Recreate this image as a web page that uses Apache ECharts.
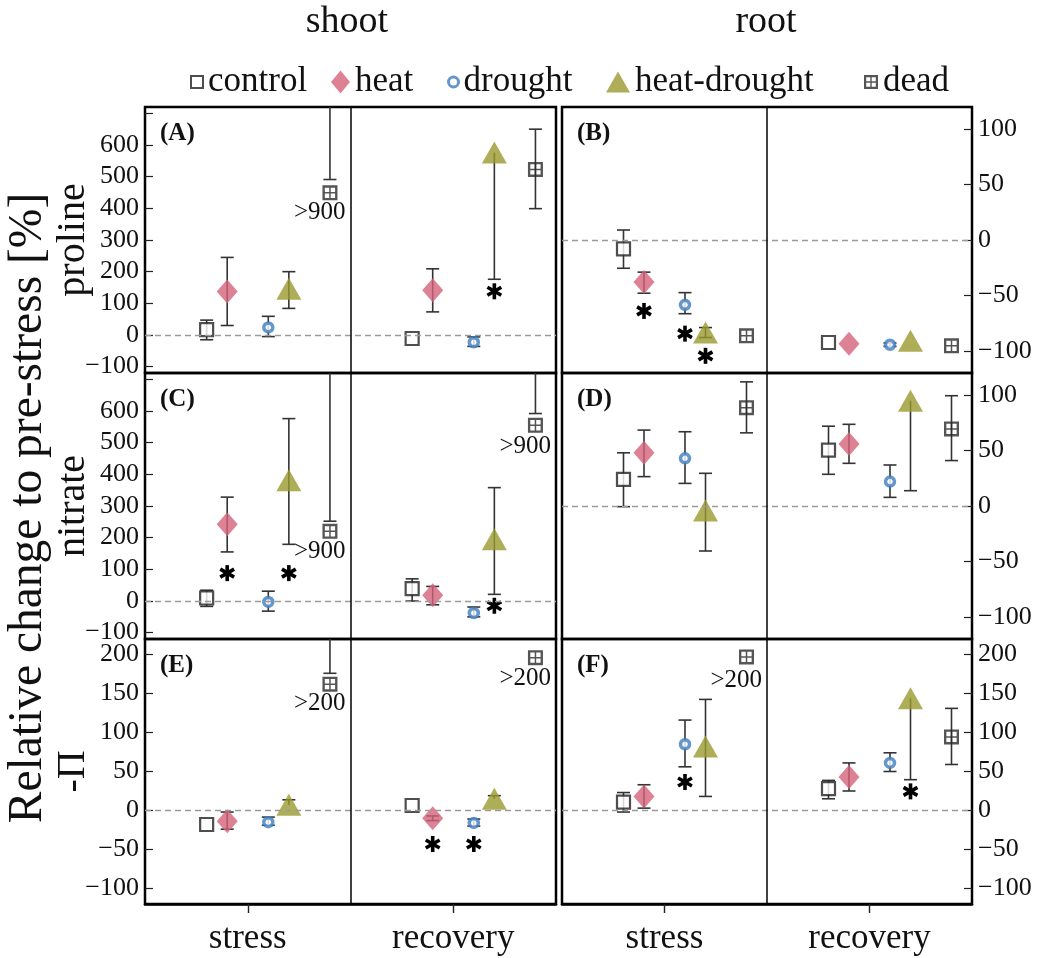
<!DOCTYPE html>
<html><head><meta charset="utf-8">
<script src="https://cdn.jsdelivr.net/npm/echarts@6/dist/echarts.min.js"></script>
<style>html,body{margin:0;padding:0;background:#fff}#c{width:1042px;height:958px}</style>
</head><body><div id="c"></div>
<script>
// ---------------- data ----------------
const treatments = ['control', 'heat', 'drought', 'heat-drought', 'dead'];
const phases = ['stress', 'recovery'];
const tissues = ['shoot', 'root'];
const variables = ['proline', 'nitrate', '-\u03A0'];
const panelLetters = ['(A)', '(B)', '(C)', '(D)', '(E)', '(F)'];
const yTitle = 'Relative change to pre-stress [%]';

// mean relative change [stress, recovery] per treatment (order as treatments)
const meanA = [[17, -11], [137, 141], [24, -23], [146, 576], [449, 523]];
const meanB = [[-8, -92.5], [-38, -93.5], [-58.5, -94.5], [-83.5, -91], [-86.5, -95.5]];
const meanC = [[9.5, 39], [242, 18], [-3, -38], [381, 195], [220, 555]];
const meanD = [[24, 50.5], [48, 56], [43, 22], [-4, 95], [88.7, 69.5]];
const meanE = [[-18, 6.4], [-13.7, -10], [-15, -16], [7.3, 15], [162, 196]];
const meanF = [[10.7, 28], [18, 43], [85, 61], [82, 144], [197, 94.4]];

// error bars [[lo, hi] stress, [lo, hi] recovery]; null = no whisker on that side
const errA = [[[-15, 47], [null, null]], [[30, 245], [73, 209]], [[-5, 59], [-36, -6]], [[84, 200], [176, null]], [[491, 1000], [399, 650]]];
const errB = [[[-25.5, 9], [null, null]], [[-48, -29], [null, null]], [[-66.5, -47.5], [-96, -93]], [[-88, -79], [null, null]], [[null, null], [null, null]]];
const errC = [[[-17, 34], [0, 70]], [[155, 328], [-12, 46]], [[-32, 31], [-50, -19]], [[179, 576], [21, 358]], [[252, 1000], [592, 1000]]];
const errD = [[[-0.6, 48], [28.6, 72]], [[26.5, 68.5], [38.5, 73.7]], [[20.4, 67], [7.8, 37]], [[-40.6, 29.5], [13.8, null]], [[66, 112], [41, 99.5]]];
const errE = [[[null, null], [null, null]], [[-24, -2], [-13, -7]], [[-19, -8.5], [-20, -11]], [[null, 13.7], [null, 19]], [[176, 300], [null, null]]];
const errF = [[[-2, 23], [15, 38.6]], [[3, 33], [25, 61]], [[56, 116], [50, 74]], [[18, 142.5], [39.5, null]], [[null, null], [59, 131]]];

// significance asterisks [phase, treatment, y]
const starsA = [['recovery', 'heat-drought', 138]];
const starsB = [['stress', 'heat', -64], ['stress', 'drought', -84.5], ['stress', 'heat-drought', -104.5]];
const starsC = [['stress', 'heat', 88], ['stress', 'heat-drought', 88], ['recovery', 'heat-drought', -15]];
const starsD = [];
const starsE = [['recovery', 'heat', -43], ['recovery', 'drought', -43]];
const starsF = [['stress', 'drought', 36.5], ['recovery', 'heat-drought', 24.5]];

// out-of-range notes [phase, treatment, y, text]
const notesA = [['stress', 'dead', 388, '>900']];
const notesB = [];
const notesC = [['stress', 'dead', 155, '>900'], ['recovery', 'dead', 488, '>900']];
const notesD = [];
const notesE = [['stress', 'dead', 137, '>200'], ['recovery', 'dead', 169, '>200']];
const notesF = [['stress', 'dead', 167, '>200']];

// axis ticks
const ticksShootTick = [-100, 0, 100, 200, 300, 400, 500, 600, 700];
const ticksShootLabel = [-100, 0, 100, 200, 300, 400, 500, 600];
const ticksRoot = [-100, -50, 0, 50, 100];
const ticksPi = [-100, -50, 0, 50, 100, 150, 200];

// ---------------- layout / style ----------------
const SERIF = '"Liberation Serif", "Times New Roman", serif';
const offsets = [-0.2, -0.1, 0.1, 0.2, 0.4];
const cols = [{ left: 145, width: 411 }, { left: 562, width: 410 }];
const rows = [{ top: 107, height: 266 }, { top: 373, height: 266 }, { top: 639, height: 265 }];
const panels = [
  { mean: meanA, err: errA, stars: starsA, notes: notesA, min: -120, max: 720, tick: ticksShootTick, label: ticksShootLabel },
  { mean: meanB, err: errB, stars: starsB, notes: notesB, min: -120, max: 120, tick: ticksRoot, label: ticksRoot },
  { mean: meanC, err: errC, stars: starsC, notes: notesC, min: -120, max: 720, tick: ticksShootTick, label: ticksShootLabel },
  { mean: meanD, err: errD, stars: starsD, notes: notesD, min: -120, max: 120, tick: ticksRoot, label: ticksRoot },
  { mean: meanE, err: errE, stars: starsE, notes: notesE, min: -120, max: 220, tick: ticksPi, label: ticksPi },
  { mean: meanF, err: errF, stars: starsF, notes: notesF, min: -120, max: 220, tick: ticksPi, label: ticksPi }
];
const DEAD_PATH = 'path://M0,0 L14,0 L14,14 L0,14 Z M2.2,2.2 L2.2,6.3 L6.3,6.3 L6.3,2.2 Z M7.7,2.2 L7.7,6.3 L11.8,6.3 L11.8,2.2 Z M2.2,7.7 L2.2,11.8 L6.3,11.8 L6.3,7.7 Z M7.7,7.7 L7.7,11.8 L11.8,11.8 L11.8,7.7 Z';
const markerStyle = [
  { symbol: 'rect', symbolSize: 13, itemStyle: { color: '#fff', borderColor: '#222', borderWidth: 2.2 } },
  { symbol: 'diamond', symbolSize: [21, 24], itemStyle: { color: '#D4637A' } },
  { symbol: 'circle', symbolSize: 9, itemStyle: { color: '#fff', borderColor: '#3E7DBF', borderWidth: 3.5 } },
  { symbol: 'triangle', symbolSize: [25, 22], itemStyle: { color: '#9B9A2E' } },
  { symbol: DEAD_PATH, symbolSize: 15, itemStyle: { color: '#2a2a2a' } }
];
const xPos = (phase, tIdx) => phases.indexOf(phase) + 1 + offsets[tIdx];
const minus = v => String(v).replace('-', '\u2212');

const grid = [], xAxis = [], yAxis = [], series = [];
panels.forEach((P, p) => {
  const r = Math.floor(p / 2), c = p % 2;
  grid.push({ left: cols[c].left, width: cols[c].width, top: rows[r].top, height: rows[r].height,
    show: true, borderColor: '#000', borderWidth: 2.5, backgroundColor: 'transparent', outerBoundsMode: 'none' });
  const bottom = r === 2;
  xAxis.push({ gridIndex: p, type: 'value', min: 0.5, max: 2.5, position: 'bottom',
    axisLine: { show: bottom, onZero: false, lineStyle: { color: '#000', width: 2.5 } }, splitLine: { show: false },
    axisTick: bottom ? { show: true, inside: false, length: 9, customValues: [1, 2], lineStyle: { color: '#222', width: 1.4 } } : { show: false },
    axisLabel: bottom ? { show: true, customValues: [1, 2], formatter: v => phases[Math.round(v) - 1], margin: 17,
      fontFamily: SERIF, fontSize: 35, color: '#111' } : { show: false } });
  yAxis.push({ gridIndex: p, type: 'value', min: P.min, max: P.max, position: c === 0 ? 'left' : 'right',
    axisLine: { show: false, onZero: false }, splitLine: { show: false },
    axisTick: { show: true, inside: true, length: 8, customValues: P.tick, lineStyle: { color: '#222', width: 1.2 } },
    axisLabel: { show: true, customValues: P.label, margin: 6, formatter: minus, fontFamily: SERIF, fontSize: 26, color: '#111' } });

  // error bars
  const items = [];
  treatments.forEach((t, ti) => phases.forEach((ph, pi) => {
    const [lo, hi] = P.err[ti][pi];
    if (lo == null && hi == null) return;
    items.push({ x: xPos(ph, ti), mean: P.mean[ti][pi], lo, hi });
  }));
  series.push({ type: 'custom', xAxisIndex: p, yAxisIndex: p, silent: true, z: 2,
    data: items.map(it => [it.x, it.mean]), encode: { x: 0, y: 1 },
    renderItem: (params, api) => {
      const it = items[params.dataIndex];
      const cs = params.coordSys;
      const top = cs.y, bot = cs.y + cs.height;
      const clamp = y => Math.max(top, Math.min(bot, y));
      const px = api.coord([it.x, it.mean])[0];
      const yLo = api.coord([it.x, it.lo == null ? it.mean : it.lo])[1];
      const yHi = api.coord([it.x, it.hi == null ? it.mean : it.hi])[1];
      const st = { stroke: '#333', lineWidth: 1.6 };
      const ch = [{ type: 'line', shape: { x1: px, y1: clamp(yLo), x2: px, y2: clamp(yHi) }, style: st }];
      const cap = 6.5;
      if (it.lo != null && yLo >= top && yLo <= bot) ch.push({ type: 'line', shape: { x1: px - cap, y1: yLo, x2: px + cap, y2: yLo }, style: st });
      if (it.hi != null && yHi >= top && yHi <= bot) ch.push({ type: 'line', shape: { x1: px - cap, y1: yHi, x2: px + cap, y2: yHi }, style: st });
      return { type: 'group', children: ch };
    } });

  // markers
  treatments.forEach((t, ti) => {
    const s = Object.assign({ type: 'scatter', name: t, xAxisIndex: p, yAxisIndex: p, silent: true, z: 3,
      data: phases.map((ph, pi) => [xPos(ph, ti), P.mean[ti][pi]]) }, markerStyle[ti]);
    if (ti === 0) {
      s.markLine = { silent: true, symbol: 'none', animation: false, label: { show: false },
        data: [
          { yAxis: 0, lineStyle: { type: [6, 4], color: '#9a9a9a', width: 1.3 } },
          { xAxis: 1.5, lineStyle: { type: 'solid', color: '#000', width: 1.5 } }
        ] };
    }
    series.push(s);
  });

  // asterisks
  const stars = P.stars.map(([ph, t, y]) => [xPos(ph, treatments.indexOf(t)), y]);
  if (stars.length) series.push({ type: 'custom', xAxisIndex: p, yAxisIndex: p, silent: true, z: 4,
    data: stars, encode: { x: 0, y: 1 },
    renderItem: (params, api) => {
      const [cx, cy] = api.coord([api.value(0), api.value(1)]);
      const a = 8, ch = [];
      [90, 30, 150].forEach(deg => {
        const rad = deg * Math.PI / 180, dx = a * Math.cos(rad), dy = a * Math.sin(rad);
        ch.push({ type: 'line', shape: { x1: cx - dx, y1: cy - dy, x2: cx + dx, y2: cy + dy }, style: { stroke: '#000', lineWidth: 3.6 } });
      });
      return { type: 'group', children: ch };
    } });

  // out-of-range notes
  const notes = P.notes.map(([ph, t, y, txt]) => ({ x: xPos(ph, treatments.indexOf(t)) - 0.05, y, txt }));
  if (notes.length) series.push({ type: 'custom', xAxisIndex: p, yAxisIndex: p, silent: true, z: 4,
    data: notes.map(n => [n.x, n.y]), encode: { x: 0, y: 1 },
    renderItem: (params, api) => {
      const n = notes[params.dataIndex];
      const [cx, cy] = api.coord([n.x, n.y]);
      return { type: 'text', x: cx, y: cy, style: { text: n.txt, align: 'center', verticalAlign: 'middle',
        fontFamily: SERIF, fontSize: 25, fill: '#111' } };
    } });
});

// legend (one component per entry to match spacing)
const legendPos = [
  { left: 190, itemWidth: 12, itemHeight: 12 },
  { left: 331, itemWidth: 19, itemHeight: 23 },
  { left: 447, itemWidth: 10, itemHeight: 10 },
  { left: 606, itemWidth: 24, itemHeight: 21 },
  { left: 864, itemWidth: 14, itemHeight: 14 }
];
const legend = treatments.map((t, i) => Object.assign({ data: [t], top: 64, padding: 0, selectedMode: false,
  itemStyle: i === 2 ? { borderWidth: 3 } : (i === 0 ? { borderWidth: 2 } : {}),
  textStyle: { fontFamily: SERIF, fontSize: 35, color: '#111', lineHeight: 36 } }, legendPos[i]));

// static texts
const graphicEls = [
  { type: 'text', x: 347, y: 22, style: { text: tissues[0], fontFamily: SERIF, fontSize: 38, fill: '#111', align: 'center', verticalAlign: 'middle' } },
  { type: 'text', x: 766, y: 22, style: { text: tissues[1], fontFamily: SERIF, fontSize: 38, fill: '#111', align: 'center', verticalAlign: 'middle' } },
  { type: 'text', x: 29, y: 508, rotation: Math.PI / 2, style: { text: yTitle, fontFamily: SERIF, fontSize: 47.5, fill: '#111', align: 'center', verticalAlign: 'middle' } }
];
variables.forEach((v, r) => {
  graphicEls.push({ type: 'text', x: 73, y: rows[r].top + rows[r].height / 2, rotation: Math.PI / 2,
    style: { text: v, fontFamily: SERIF, fontSize: 40, fill: '#111', align: 'center', verticalAlign: 'middle' } });
});
panelLetters.forEach((l, p) => {
  const r = Math.floor(p / 2), c = p % 2;
  graphicEls.push({ type: 'text', x: cols[c].left + 15, y: rows[r].top + 27,
    style: { text: l, fontFamily: SERIF, fontSize: 25, fontWeight: 'bold', fill: '#111', align: 'left', verticalAlign: 'middle' } });
});

const chart = echarts.init(document.getElementById('c'), null, { renderer: 'canvas' });
chart.setOption({
  animation: false,
  backgroundColor: '#fff',
  grid, xAxis, yAxis, series, legend,
  graphic: { elements: graphicEls }
});
</script></body></html>
